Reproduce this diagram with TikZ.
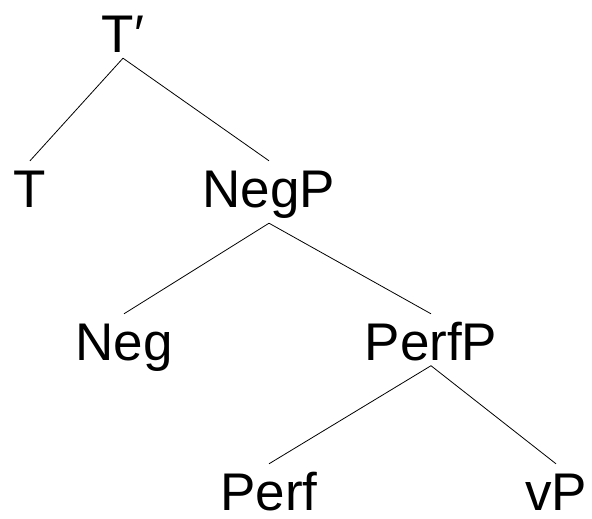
\documentclass[tikz,border=0pt]{standalone}
\usepackage{fontspec}
\setmainfont{Liberation Sans}
\begin{document}
\begin{tikzpicture}[x=1pt,y=-1pt,
  lab/.style={anchor=base, inner xsep=0pt, inner ysep=5pt, text height=41pt,
    font=\fontsize{53}{60}\selectfont},
  edge/.style={draw=black, line width=0.8pt}]
\useasboundingbox (0,0) rectangle (592,519);
\node[lab] (Tp) at (123,53) {T′};
\node[lab] (T) at (30,207) {T};
\node[lab] (NegP) at (269,207) {NegP};
\node[lab] (Neg) at (124,360) {Neg};
\node[lab] (PerfP) at (431,360) {PerfP};
\node[lab] (Perf) at (269,510) {Perf};
\node[lab] (vP) at (556,510) {vP};
\draw[edge] (Tp.south) -- (T.north);
\draw[edge] (Tp.south) -- (NegP.north);
\draw[edge] (NegP.south) -- (Neg.north);
\draw[edge] (NegP.south) -- (PerfP.north);
\draw[edge] (PerfP.south) -- (Perf.north);
\draw[edge] (PerfP.south) -- (vP.north);
\end{tikzpicture}
\end{document}
